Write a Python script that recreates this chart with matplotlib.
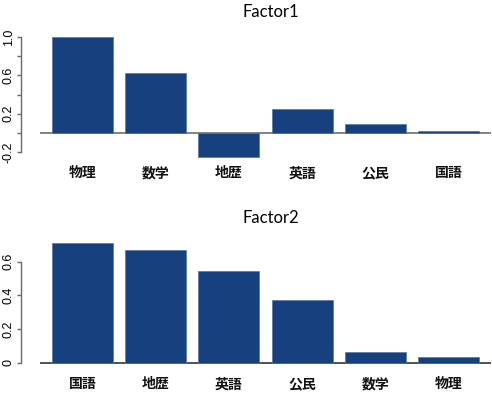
import matplotlib
matplotlib.use("Agg")
import matplotlib.pyplot as plt

subjects1 = ["物理", "数学", "地歴", "英語", "公民", "国語"]
loadings1 = [1.00, 0.62, -0.25, 0.25, 0.09, 0.02]
subjects2 = ["国語", "地歴", "英語", "公民", "数学", "物理"]
loadings2 = [0.71, 0.67, 0.545, 0.37, 0.062, 0.033]
titles = ["Factor1", "Factor2"]
yticks1 = [-0.2, 0.0, 0.2, 0.4, 0.6, 0.8, 1.0]
yticklabels1 = ["-0.2", "", "0.2", "", "0.6", "", "1.0"]
yticks2 = [0.0, 0.2, 0.4, 0.6]
yticklabels2 = ["0", "0.2", "0.4", "0.6"]

W, H = 492, 395
DPI = 100
fig = plt.figure(figsize=(W / DPI, H / DPI), dpi=DPI)

BAR = "#17407E"
EDGE = "#5276aa"
GREY = "#6a6a6a"
CJK = ["Noto Sans CJK JP", "DejaVu Sans"]


def px_axes(left, top, right, bottom):
    return fig.add_axes([left / W, 1 - bottom / H, (right - left) / W, (bottom - top) / H])


def panel(ax, cats, vals, ylim, yticks, ylabels, title, title_y, line_color):
    pos = [0.7 + 1.2 * i for i in range(len(cats))]
    ax.axhline(0, color=line_color, lw=1.3, zorder=1)
    ax.bar(pos, vals, width=1.0, color=BAR, edgecolor=EDGE, linewidth=0.5, zorder=2)
    ax.set_xlim(0, 7.4)
    ax.set_ylim(*ylim)
    for s in ["top", "right", "bottom"]:
        ax.spines[s].set_visible(False)
    ax.spines["left"].set_position(("outward", 19 * 72 / DPI))
    ax.spines["left"].set_bounds(yticks[0], yticks[-1])
    ax.spines["left"].set_color(GREY)
    ax.spines["left"].set_linewidth(1.0)
    ax.set_yticks(yticks)
    ax.set_yticklabels(ylabels, rotation=90, va="center", ha="right",
                       family=["Liberation Sans", "DejaVu Sans"], fontsize=9)
    ax.tick_params(axis="y", length=3, width=1.0, color=GREY, pad=1.5)
    ax.set_xticks(pos)
    ax.set_xticklabels(cats, family=CJK, fontsize=10, fontweight="bold", color="#111111")
    ax.tick_params(axis="x", length=0, pad=3)
    ax.patch.set_alpha(0)
    fig.text(271 / W, 1 - title_y / H, title, ha="center", va="center",
             family=["Lato", "DejaVu Sans"], fontsize=12)


# top panel: 0 -> 133px, 1.0 -> 37px
ax1 = px_axes(40, 30, 491, 162)
s1 = 96.0
panel(ax1, subjects1, loadings1, ((133 - 162) / s1, (133 - 30) / s1),
      yticks1, yticklabels1, titles[0], 12, "#7a7a7a")

# bottom panel: 0 -> 362.7px, 0.6 -> 261.7px
ax2 = px_axes(40, 235, 491, 373)
s2 = 168.3
panel(ax2, subjects2, loadings2, ((362.7 - 373) / s2, (362.7 - 235) / s2),
      yticks2, yticklabels2, titles[1], 218, "#444444")

fig.savefig("out.png", dpi=DPI)
